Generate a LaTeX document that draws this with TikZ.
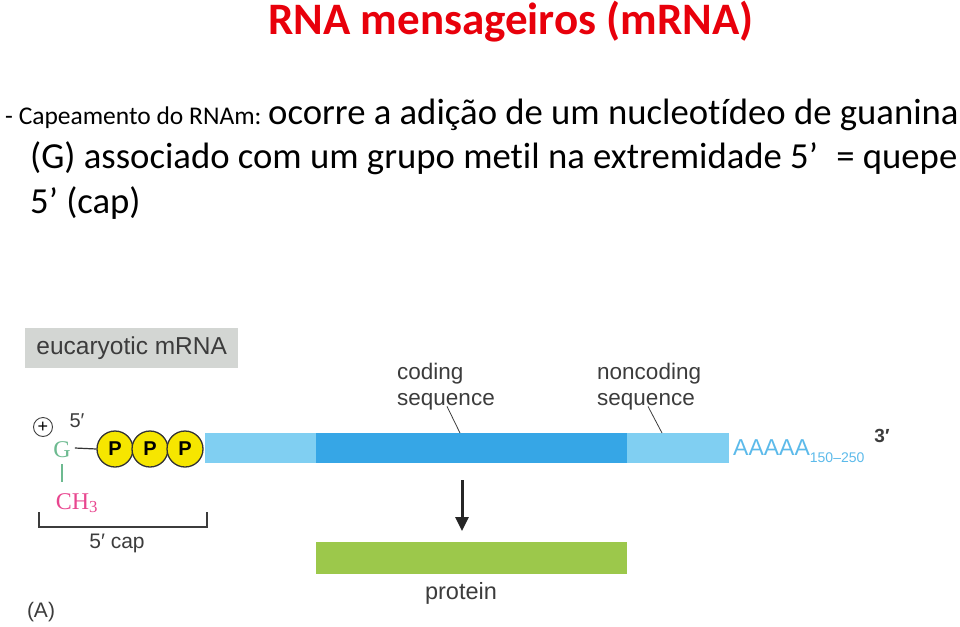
\documentclass[tikz,border=0pt]{standalone}
\usepackage{fontspec}
\setmainfont[Ligatures=NoCommon]{Carlito}
\newfontfamily\arial{Liberation Sans}
\newfontfamily\tnr{Liberation Serif}
\usetikzlibrary{arrows.meta,calc}
\definecolor{titlered}{HTML}{E8000B}
\definecolor{lblue}{HTML}{80CFF2}
\definecolor{dblue}{HTML}{36A6E6}
\definecolor{ablue}{HTML}{5CBAEA}
\definecolor{pgreen}{HTML}{9CC84B}
\definecolor{boxgray}{HTML}{D3D6D3}
\definecolor{lbltext}{HTML}{3C3C3C}
\definecolor{ggreen}{HTML}{6DBA90}
\definecolor{chmag}{HTML}{E8468F}
\definecolor{pyellow}{HTML}{F6E600}
\begin{document}
\begin{tikzpicture}[x=1pt,y=-1pt,
  lbl/.style={font=\arial\fontsize{22.5}{26}\selectfont, text=lbltext, inner sep=0pt, align=left},
  body/.style={anchor=base west, inner sep=0pt, font=\fontsize{36.7}{40}\selectfont},
  pcirc/.style={circle, draw=black!80, line width=1.3pt, fill=pyellow, minimum size=36pt, inner sep=0pt, font=\arial\bfseries\fontsize{20}{20}\selectfont},
  bar/.style={anchor=north west, inner sep=0pt, minimum height=30pt},
  conn/.style={draw=lbltext, line width=0.8pt}
]
\useasboundingbox (0,0) rectangle (960,626);
% title and text
\node[anchor=base, inner sep=0pt, text=titlered, font=\bfseries\fontsize{45}{50}\selectfont] (title) at (511,35) {RNA mensageiros (mRNA)};
\node[anchor=base west, inner sep=0pt, font=\fontsize{25.5}{28}\selectfont] (capt) at (5,124) {- Capeamento do RNAm:};
\node[body] (l1) at (268,124) {ocorre a adição de um nucleotídeo de guanina};
\node[body] (l2) at (30,168) {(G) associado com um grupo metil na extremidade 5’\,\,\,= quepe};
\node[body] (l3) at (30,213) {5’ (cap)};
% diagram
\node[fill=boxgray, anchor=north west, minimum width=213pt, minimum height=40pt, inner sep=0pt, font=\arial\fontsize{24.5}{26}\selectfont, text=lbltext] (euk) at (25,328) {eucaryotic mRNA};
\node[bar, fill=lblue, minimum width=111pt] (utr5) at (205,433) {};
\node[bar, fill=dblue, minimum width=311pt] (cds) at (316,433) {};
\node[bar, fill=lblue, minimum width=102pt] (utr3) at (627,433) {};
\node[lbl, anchor=north west] (codlbl) at (397,363) {coding\\sequence};
\node[lbl, anchor=north west] (nclbl) at (597,363) {noncoding\\sequence};
\draw[conn] ($(codlbl.south west)+(50,-4)$) -- ($(cds.north west)+(144,0)$);
\draw[conn] ($(nclbl.south west)+(51,-4)$) -- ($(utr3.north west)+(35,0)$);
\node[anchor=base west, inner sep=0pt, text=ablue, font=\arial\fontsize{23}{26}\selectfont] (polyA) at (733,455) {AAAAA\raisebox{-7pt}{\fontsize{14}{14}\selectfont 150–250}};
\node[inner sep=0pt, font=\arial\bfseries\fontsize{19}{20}\selectfont, text=lbltext] (three) at (882,436) {3′};
% cap
\node[circle, draw=black!75, line width=0.9pt, inner sep=0pt, minimum size=19pt, font=\arial\fontsize{18}{18}\selectfont] (plus) at (43,427) {+};
\node[inner sep=0pt, font=\arial\fontsize{20}{20}\selectfont, text=lbltext] (five) at (77,421) {5′};
\node[inner sep=0pt, font=\tnr\fontsize{24}{24}\selectfont, text=ggreen] (G) at (62,450) {G};
\node[pcirc] (p1) at (115,449) {P};
\node[pcirc] (p2) at (150,449) {P};
\node[pcirc] (p3) at (185,449) {P};
\draw[black!80, line width=1.2pt] ($(G.east)+(4,-2)$) -- (p1.west);
\node[inner sep=0pt, font=\tnr\fontsize{24}{24}\selectfont, text=chmag] (ch3) at (77,503) {CH\textsubscript{3}};
\draw[ggreen, line width=2.5pt] ($(G.south)+(0,6)$) -- ($(G.south)+(0,24)$);
\coordinate (bl) at (39,512);
\coordinate (br) at (207,512);
\draw[lbltext, line width=1.3pt] (bl) -- ++(0,15) -| (br);
\node[inner sep=0pt, font=\arial\fontsize{21}{22}\selectfont, text=lbltext] (capl) at (117,543) {5′ cap};
% protein
\node[bar, fill=pgreen, minimum width=311pt, minimum height=32pt] (prot) at (316,542) {};
\draw[black!85, line width=3pt, -{Triangle[length=14pt,width=13pt]}] ($(cds.south west)+(146,17)$) -- ($(prot.north west)+(146,-11)$);
\node[inner sep=0pt, font=\arial\fontsize{23.5}{26}\selectfont, text=lbltext] (protl) at (461,593) {protein};
\node[inner sep=0pt, font=\arial\fontsize{21}{22}\selectfont, text=lbltext] (A) at (41,612) {(A)};
\end{tikzpicture}
\end{document}
